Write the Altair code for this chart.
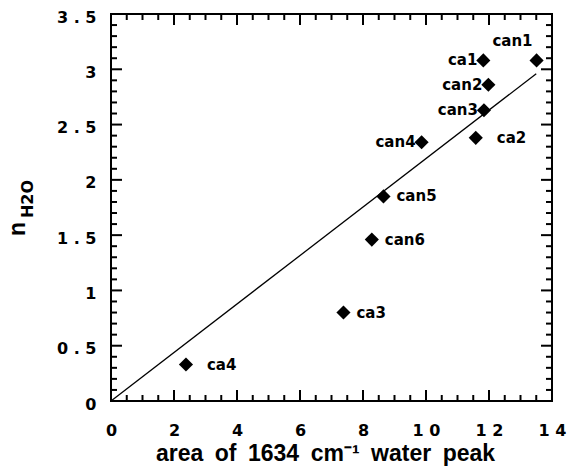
import altair as alt
import pandas as pd

# ---- data ----
names = ["can1", "ca1", "can2", "can3", "ca2", "can4", "can5", "can6", "ca3", "ca4"]
area = [13.51, 11.82, 11.98, 11.84, 11.58, 9.86, 8.65, 8.28, 7.38, 2.38]
n_h2o = [3.08, 3.08, 2.86, 2.63, 2.38, 2.34, 1.85, 1.46, 0.80, 0.33]
label_side = ["above", "left", "left", "left", "far", "left", "right", "right", "right", "far"]

fit_x = [0, 13.5]
fit_y = [0, 2.96]

x_major = [0, 2, 4, 6, 8, 10, 12, 14]
x_minor = [0.5, 1, 1.5, 2.5, 3, 3.5, 4.5, 5, 5.5, 6.5, 7, 7.5, 8.5, 9, 9.5,
           10.5, 11, 11.5, 12.5, 13, 13.5]
y_major = [0, 0.5, 1, 1.5, 2, 2.5, 3, 3.5]
y_minor = [0.1, 0.2, 0.3, 0.4, 0.6, 0.7, 0.8, 0.9, 1.1, 1.2, 1.3, 1.4, 1.6, 1.7,
           1.8, 1.9, 2.1, 2.2, 2.3, 2.4, 2.6, 2.7, 2.8, 2.9, 3.1, 3.2, 3.3, 3.4]

W, H = 441, 387
FONT = "Liberation Sans"
WIDE = "DejaVu Sans"

pts = pd.DataFrame({"name": names, "area": area, "n": n_h2o, "side": label_side})
fit = pd.DataFrame({"area": fit_x, "n": fit_y})

xs = alt.Scale(domain=[0, 14], nice=False, zero=False)
ys = alt.Scale(domain=[0, 3.5], nice=False, zero=False)

xaxis = alt.Axis(
    values=x_major, ticks=False, domain=False, grid=False,
    labelFont=WIDE, labelFontWeight="bold", labelFontSize=16, labelColor="black",
    labelBaseline="alphabetic", labelPadding=34, labelFlush=False,
    labelExpr="datum.value >= 10 ? '1 ' + (datum.value - 10) : datum.label",
    title="area\u2002of\u20021634\u2002cm\u207b\u00b9\u2002water\u2002peak",
    titleFont=FONT, titleFontWeight="bold", titleFontSize=23, titleColor="black",
    titleBaseline="alphabetic", titleY=59, titleX=214,
)
yaxis = alt.Axis(
    values=y_major, ticks=False, domain=False, grid=False, format="~g",
    labelFont=WIDE, labelFontWeight="bold", labelFontSize=16, labelColor="black",
    labelPadding=15, labelFlush=False, labelOffset=3,
    labelExpr="replace(datum.label, '.', ' . ')",
    title=None,
)

line = alt.Chart(fit).mark_line(color="black", strokeWidth=1.3).encode(
    x=alt.X("area:Q", scale=xs, axis=xaxis), y=alt.Y("n:Q", scale=ys, axis=yaxis))

# inward frame ticks drawn as thin filled bar symbols (length L px -> size L*L)
def vbar(halfw):
    return f"M{-halfw},-1L{halfw},-1L{halfw},1L{-halfw},1Z"

def hbar(halfw):
    return f"M-1,{-halfw}L1,{-halfw}L1,{halfw}L-1,{halfw}Z"

def vticks(vals, length, top):
    ypos = length / 2 if top else H - length / 2
    return alt.Chart(pd.DataFrame({"area": vals})).mark_point(
        shape=vbar(round(1.0 / (length / 2), 3)), filled=True, color="black",
        size=length * length, opacity=1, strokeWidth=0).encode(
        x=alt.X("area:Q", scale=xs), y=alt.value(ypos))

def hticks(vals, length, left):
    xpos = length / 2 if left else W - length / 2
    return alt.Chart(pd.DataFrame({"n": vals})).mark_point(
        shape=hbar(round(1.0 / (length / 2), 3)), filled=True, color="black",
        size=length * length, opacity=1, strokeWidth=0).encode(
        y=alt.Y("n:Q", scale=ys), x=alt.value(xpos))

tick_layers = [vticks(x_major, 11, False), vticks(x_minor, 6, False),
               vticks(x_major, 11, True), vticks(x_minor, 6, True),
               hticks(y_major, 11, True), hticks(y_minor, 6, True),
               hticks(y_major, 11, False), hticks(y_minor, 6, False)]

points = alt.Chart(pts).mark_point(shape="diamond", filled=True, color="black",
                                   size=200, opacity=1).encode(
    x=alt.X("area:Q", scale=xs), y=alt.Y("n:Q", scale=ys))

def labels(side, align, dx, dy):
    return alt.Chart(pts).transform_filter(alt.datum.side == side).mark_text(
        font=WIDE, fontWeight="bold", fontSize=15, color="black",
        align=align, baseline="middle", dx=dx, dy=dy).encode(
        x=alt.X("area:Q", scale=xs), y=alt.Y("n:Q", scale=ys), text="name:N")

ytitle = alt.Chart(pd.DataFrame({"t": ["n"]})).mark_text(
    font=FONT, fontWeight="bold", fontSize=23, color="black", angle=270,
    align="center", baseline="middle").encode(
    x=alt.value(-93), y=alt.value(215), text="t:N")
ysub = alt.Chart(pd.DataFrame({"t": ["H2O"]})).mark_text(
    font=WIDE, fontWeight="bold", fontSize=16, color="black", angle=270,
    align="center", baseline="middle").encode(
    x=alt.value(-83), y=alt.value(185), text="t:N")

chart = alt.layer(
    line, *tick_layers, points,
    labels("above", "right", -4, -19), labels("left", "right", -6, 0),
    labels("right", "left", 13, 0), labels("far", "left", 21, 0),
    ytitle, ysub,
).properties(
    width=W, height=H,
    autosize=alt.AutoSizeParams(type="none"),
    padding={"left": 111, "top": 14, "right": 20, "bottom": 68},
    background="white",
).configure_view(stroke="black", strokeWidth=2)

chart.save("out.html", embed_options={"renderer": "svg", "actions": False})
